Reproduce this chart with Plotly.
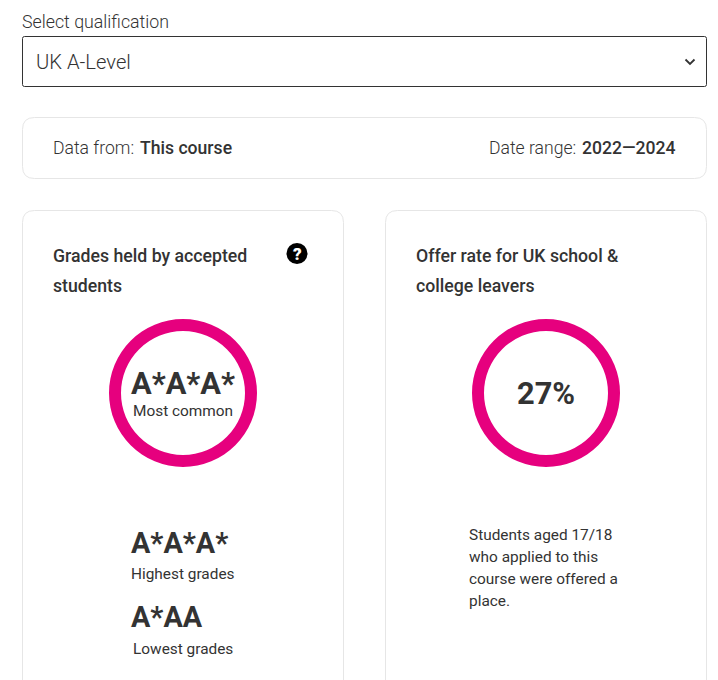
import plotly.graph_objects as go

W, H = 718, 680
INK = "#333333"
PINK = "#E6007E"
BORDER = "#E6E6E6"

ring_labels = ["Most common", "Offer rate"]
ring_values = [100, 100]
big_labels = ["A*A*A*", "27%", "A*A*A*", "A*AA"]
small_labels = ["Most common", "Highest grades", "Lowest grades"]
note_lines = ["Students aged 17/18", "who applied to this", "course were offered a", "place."]


def X(p):
    return p / W


def Y(p):
    return 1 - p / H


def rounded(x0, y0, x1, y1, r, color, width=1, fill="white"):
    path = (
        f"M {X(x0 + r)} {Y(y0)} L {X(x1 - r)} {Y(y0)} Q {X(x1)} {Y(y0)} {X(x1)} {Y(y0 + r)} "
        f"L {X(x1)} {Y(y1 - r)} Q {X(x1)} {Y(y1)} {X(x1 - r)} {Y(y1)} "
        f"L {X(x0 + r)} {Y(y1)} Q {X(x0)} {Y(y1)} {X(x0)} {Y(y1 - r)} "
        f"L {X(x0)} {Y(y0 + r)} Q {X(x0)} {Y(y0)} {X(x0 + r)} {Y(y0)} Z"
    )
    return dict(type="path", path=path, xref="paper", yref="paper",
                line=dict(color=color, width=width), fillcolor=fill, layer="below")


def txt(x, y, s, size, weight=400, anchor="left", color=INK):
    return dict(x=X(x), y=Y(y), xref="paper", yref="paper", text=s, showarrow=False,
                xanchor=anchor, yanchor="middle", borderpad=0, borderwidth=0,
                font=dict(family="Roboto", size=size, color=color, weight=weight))


fig = go.Figure()
RO, RI = 74, 62
for cx, label, value in zip((183, 546), ring_labels, ring_values):
    fig.add_trace(go.Pie(
        labels=[label], values=[value], hole=RI / RO, sort=False, textinfo="none",
        showlegend=False, hoverinfo="skip",
        marker=dict(colors=[PINK], line=dict(width=0)),
        domain=dict(x=[X(cx - RO), X(cx + RO)], y=[Y(393 + RO), Y(393 - RO)]),
    ))

shapes = [
    rounded(22.5, 36.5, 706.5, 86.5, 2, INK),
    rounded(22.5, 117.5, 706.5, 178.5, 12, BORDER),
    rounded(22.5, 210.5, 343.5, 720, 12, BORDER),
    rounded(385.5, 210.5, 706.5, 720, 12, BORDER),
    dict(type="circle", xref="paper", yref="paper", x0=X(286.5), x1=X(307.5),
         y0=Y(264), y1=Y(243), fillcolor="black", line=dict(width=0)),
    dict(type="path", xref="paper", yref="paper",
         path=f"M {X(685.5)} {Y(59.5)} L {X(690)} {Y(64)} L {X(694.5)} {Y(59.5)}",
         line=dict(color=INK, width=1.8)),
]

annotations = [
    txt(22, 21, "Select qualification", 17.8, 300),
    txt(36, 62, "UK A-Level", 20.2, 300),
    txt(53, 147.5, "Data from:", 17.6, 300),
    txt(139.5, 147.5, "This course", 17.6, 500),
    txt(489, 147.5, "Date range:", 17.6, 300),
    txt(582, 147.5, "2022—2024", 17.6, 500),
    txt(53.2, 255.6, "Grades held by accepted", 17.7, 500),
    txt(53.2, 285.6, "students", 17.7, 500),
    txt(416, 255.6, "Offer rate for UK school &", 17.7, 500),
    txt(416, 285.6, "college leavers", 17.7, 500),
    txt(297, 253.5, "?", 17, 900, "center", "white"),
    txt(183, 383, big_labels[0], 30.8, 700, "center"),
    txt(183, 411, small_labels[0], 15.4, 400, "center"),
    txt(546, 393.6, big_labels[1], 30.8, 700, "center"),
    txt(131.3, 543, big_labels[2], 28.8, 700),
    txt(131.3, 574, small_labels[1], 15.4, 400),
    txt(131.3, 617, big_labels[3], 28.8, 700),
    txt(133, 649, small_labels[2], 15.4, 400),
]
for i, line in enumerate(note_lines):
    annotations.append(txt(469, 535 + 22 * i, line, 15.4, 400))

fig.update_layout(
    width=W, height=H, margin=dict(l=0, r=0, t=0, b=0),
    paper_bgcolor="white", plot_bgcolor="white",
    shapes=shapes, annotations=annotations,
)

fig.write_html("out.html", config={"displayModeBar": False},
               post_script="document.body.style.margin='0';document.documentElement.style.overflow='hidden';")
